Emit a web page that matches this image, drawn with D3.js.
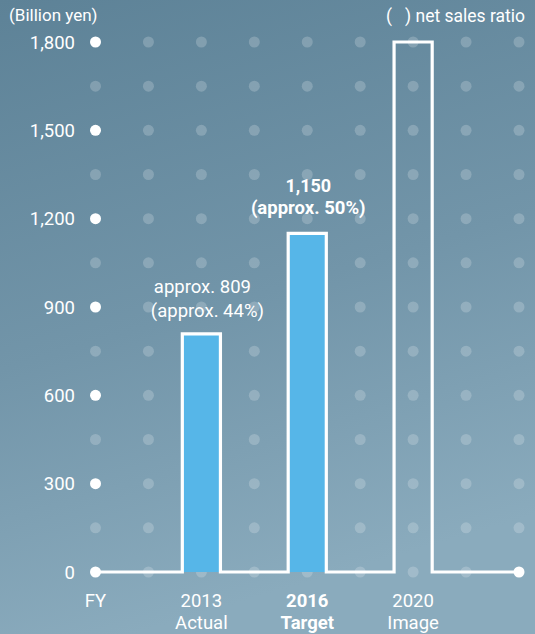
<!DOCTYPE html>
<html>
<head>
<meta charset="utf-8">
<script src="https://cdn.jsdelivr.net/npm/d3@7"></script>
<style>
  html, body { margin: 0; padding: 0; }
  body { width: 535px; height: 634px; overflow: hidden; }
  svg { display: block; font-family: Roboto, "Liberation Sans", Arial, sans-serif; }
</style>
</head>
<body>
<svg id="chart" width="535" height="634"></svg>
<script>
// ---- data ----
const slots = ["FY", "s1", "2013", "s3", "2016", "s5", "2020", "s7", "end"];
const categories = ["2013", "2016", "2020"];
const subLabels = ["Actual", "Target", "Image"];
const values = [809, 1150, 1800];
const filled = [true, true, false];
const boldCat = [false, true, false];
const valueLabels = ["approx. 809", "1,150", null];
const ratioLabels = ["(approx. 44%)", "(approx. 50%)", null];
const yTicks = [0, 300, 600, 900, 1200, 1500, 1800];
const yTickLabels = ["0", "300", "600", "900", "1,200", "1,500", "1,800"];
const gridRows = [0, 150, 300, 450, 600, 750, 900, 1050, 1200, 1350, 1500, 1650, 1800];

const svg = d3.select("#chart");
const W = 535, H = 634;

// background gradient
const defs = svg.append("defs");
const grad = defs.append("linearGradient").attr("id", "bg")
  .attr("x1", "0").attr("y1", "0").attr("x2", "0.25").attr("y2", "1");
grad.append("stop").attr("offset", "0%").attr("stop-color", "#5d8297");
grad.append("stop").attr("offset", "55%").attr("stop-color", "#7295a9");
grad.append("stop").attr("offset", "100%").attr("stop-color", "#8aabbd");
svg.append("rect").attr("width", W).attr("height", H).attr("fill", "url(#bg)");

const x = d3.scalePoint().domain(slots).range([95.5, 519]);
const y = d3.scaleLinear().domain([0, 1800]).range([572, 42]);
const barW = x.step() * 0.72;

// faint dot grid
const gridG = svg.append("g");
slots.forEach((s, i) => {
  gridRows.forEach(v => {
    const isTick = (i === 0 && yTicks.includes(v)) || (i === slots.length - 1 && v === 0);
    if (isTick) return;
    gridG.append("circle")
      .attr("cx", x(s)).attr("cy", y(v)).attr("r", 5.5)
      .attr("fill", "#ffffff").attr("fill-opacity", 0.2);
  });
});

// bar fills
categories.forEach((c, i) => {
  if (!filled[i]) return;
  svg.append("rect")
    .attr("x", x(c) - barW / 2).attr("y", y(values[i]))
    .attr("width", barW).attr("height", y(0) - y(values[i]))
    .attr("fill", "#56b6e8");
});

// outline path: baseline with bar outlines
const p = d3.path();
p.moveTo(x("FY"), y(0));
categories.forEach((c, i) => {
  const l = x(c) - barW / 2, r = x(c) + barW / 2;
  p.lineTo(l, y(0));
  p.lineTo(l, y(values[i]));
  p.lineTo(r, y(values[i]));
  p.lineTo(r, y(0));
});
p.lineTo(x("end"), y(0));
svg.append("path").attr("d", p.toString())
  .attr("fill", "none").attr("stroke", "#ffffff").attr("stroke-width", 3.2)
  .attr("stroke-linejoin", "miter");

// y tick dots and labels
yTicks.forEach((v, i) => {
  svg.append("circle").attr("cx", x("FY")).attr("cy", y(v)).attr("r", 5.5).attr("fill", "#ffffff");
  svg.append("text").attr("x", 75).attr("y", y(v) + 6.5)
    .attr("text-anchor", "end").attr("fill", "#ffffff").attr("font-size", 18.5)
    .text(yTickLabels[i]);
});
svg.append("circle").attr("cx", x("end")).attr("cy", y(0)).attr("r", 5.5).attr("fill", "#ffffff");

// header labels
svg.append("text").attr("x", 9).attr("y", 21).attr("fill", "#ffffff").attr("font-size", 17)
  .text("(Billion yen)");
svg.append("text").attr("x", 525).attr("y", 22).attr("text-anchor", "end").attr("fill", "#ffffff")
  .attr("font-size", 17.5).attr("xml:space", "preserve").style("white-space", "pre")
  .text("(   ) net sales ratio");

// bar value labels
categories.forEach((c, i) => {
  if (!valueLabels[i]) return;
  const top = y(values[i]);
  const bold = boldCat[i];
  const dx = 1;
  svg.append("text").attr("x", x(c) + dx).attr("y", top - 41)
    .attr("text-anchor", "middle").attr("fill", "#ffffff").attr("font-size", bold ? 18 : 18.5)
    .attr("font-weight", bold ? "bold" : "normal").text(valueLabels[i]);
  svg.append("text").attr("x", x(c) + dx + (bold ? 0 : 5)).attr("y", top - (bold ? 19 : 17))
    .attr("text-anchor", "middle").attr("fill", "#ffffff").attr("font-size", 18.5)
    .attr("font-weight", bold ? "bold" : "normal").text(ratioLabels[i]);
});

// x labels
svg.append("text").attr("x", x("FY")).attr("y", 607).attr("text-anchor", "middle")
  .attr("fill", "#ffffff").attr("font-size", 18.5).text("FY");
categories.forEach((c, i) => {
  const t = svg.append("text").attr("text-anchor", "middle").attr("fill", "#ffffff")
    .attr("font-size", 18.5).attr("font-weight", boldCat[i] ? "bold" : "normal");
  t.append("tspan").attr("x", x(c)).attr("y", 607).text(c);
  t.append("tspan").attr("x", x(c)).attr("y", 629).text(subLabels[i]);
});
</script>
</body>
</html>
